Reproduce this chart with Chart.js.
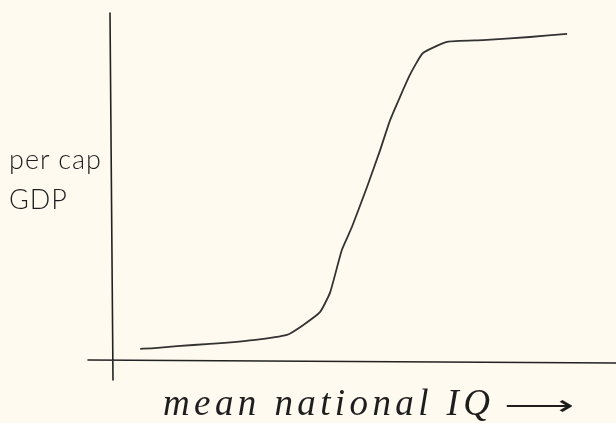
<!DOCTYPE html>
<html>
<head>
<meta charset="utf-8">
<script src="https://cdn.jsdelivr.net/npm/chart.js@4"></script>
<style>
  html, body { margin:0; padding:0; background:#fffaf0; }
  #wrap { position:relative; width:616px; height:423px; }
  #c { position:absolute; left:0; top:0; }
  .lbl { position:absolute; color:#1e1e1e; white-space:nowrap; }
  #ylab { left:9px; top:139px; font:300 27px 'Lato', sans-serif; line-height:40px; letter-spacing:1px; }
  #xlab { left:163px; top:384px; font:italic 37px 'Liberation Serif', serif; line-height:37px; letter-spacing:4.4px; }
  #arrow { display:inline-block; transform:scaleX(1.75); transform-origin:left center; letter-spacing:0; margin-left:10px; font-style:normal; font-size:28px; }
</style>
</head>
<body>
<div id="wrap">
  <canvas id="c" width="616" height="423"></canvas>
  <div class="lbl" id="ylab">per cap<br>GDP</div>
  <div class="lbl" id="xlab">mean national IQ<span id="arrow">⟶</span></div>
</div>
<script>
'use strict';
// sketch units, 0..100 on both axes
const iqValues  = [5.6, 8.5, 12.9, 19.4, 28.0, 34.7, 37.9, 41.3, 43.3, 45.6, 47.6, 50.6, 53.2, 55.2, 59.1, 61.7, 66.5, 73.6, 82.9, 90.3];
const gdpValues = [3.5, 3.7, 4.3, 4.9, 6.0, 7.5, 10.3, 14.1, 19.8, 31.9, 38.5, 50.0, 60.6, 69.3, 82.2, 88.5, 91.7, 92.2, 93.1, 94.0];

// hand drawn axes, a bit past the plot area like a pen stroke
const sketchAxes = {
  id:'sketchAxes',
  beforeDatasetsDraw(chart){
    const {ctx, chartArea:a} = chart;
    ctx.save();
    ctx.strokeStyle = '#222'; ctx.lineWidth = 1.6; ctx.lineCap = 'round';
    ctx.beginPath();
    ctx.moveTo(a.left - 2, a.top); ctx.lineTo(a.left + 1, a.bottom + 19);
    ctx.moveTo(a.left - 24, a.bottom - 1); ctx.lineTo(a.right, a.bottom + 2);
    ctx.stroke();
    ctx.restore();
  }
};

new Chart(document.getElementById('c'), {
  type:'line',
  data:{ datasets:[{
    data: iqValues.map((x,i) => ({x, y:gdpValues[i]})),
    borderColor:'#333', borderWidth:1.8, pointRadius:0, tension:0.15, fill:false
  }]},
  options:{
    responsive:false, animation:false,
    layout:{ padding:{ left:112, right:0, top:13, bottom:62 } },
    plugins:{ legend:{display:false}, tooltip:{enabled:false} },
    scales:{
      x:{ type:'linear', min:0, max:100, display:false },
      y:{ type:'linear', min:0, max:100, display:false }
    }
  },
  plugins:[sketchAxes]
});
</script>
</body>
</html>
